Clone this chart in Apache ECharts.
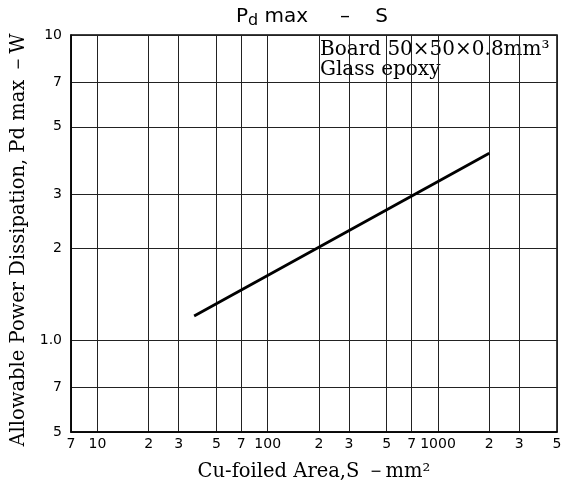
<!DOCTYPE html>
<html><head><meta charset="utf-8">
<script src="https://cdn.jsdelivr.net/npm/echarts@6/dist/echarts.min.js"></script>
<style>html,body{margin:0;padding:0;background:#fff}#c{width:569px;height:492px}</style>
</head><body><div id="c"></div>
<script>
const xTicks = [7,10,20,30,50,70,100,200,300,500,700,1000,2000,3000,5000];
const xTickLabels = ['7','10','2','3','5','7','100','2','3','5','7','1000','2','3','5'];
const yTicks = [0.5,0.7,1,2,3,5,7,10];
const yTickLabels = ['5','7','1.0','2','3','5','7','10'];
const areaS = [37, 2000];
const pdMax = [1.2, 4.1];

const chart = echarts.init(document.getElementById('c'));
const lbl = (ticks, labels) => v => { const i = ticks.findIndex(t => Math.abs(t - v) / t < 1e-6); return i >= 0 ? labels[i] : ''; };
chart.setOption({
  animation: false,
  title: {
    text: 'P{s|d} max     –    S', left: 307, top: -1, textAlign: 'center',
    textStyle: { fontFamily: 'DejaVu Sans', fontSize: 20, fontWeight: 'normal', color: '#000',
      rich: { s: { fontFamily: 'DejaVu Sans', fontSize: 16, verticalAlign: 'bottom', padding: [9,0,0,0], color: '#000' } } }
  },
  grid: { left: 71, right: 12, top: 35, bottom: 60, show: true, borderColor: '#000', borderWidth: 1.5, outerBoundsMode: 'none', containLabel: false },
  xAxis: {
    type: 'log', min: 7, max: 5000, logBase: 10,
    name: 'Cu-foiled Area,S －mm²', nameLocation: 'middle', nameGap: 30,
    nameTextStyle: { fontFamily: 'DejaVu Serif', fontSize: 19.5, color: '#000' },
    axisLine: { lineStyle: { color: '#000', width: 1.5 } },
    axisTick: { show: false, customValues: xTicks },
    axisLabel: { customValues: xTicks, formatter: lbl(xTicks, xTickLabels), color: '#000', fontFamily: 'DejaVu Sans', fontSize: 14, margin: 5, showMinLabel: true, showMaxLabel: true },
    splitLine: { show: true, lineStyle: { color: '#222', width: 1 } },
    minorSplitLine: { show: false }
  },
  yAxis: {
    type: 'log', min: 0.5, max: 10, logBase: 10,
    name: 'Allowable Power Dissipation, Pd max －W', nameLocation: 'middle', nameGap: 37,
    nameTextStyle: { fontFamily: 'DejaVu Serif', fontSize: 19.5, color: '#000', padding: [0, 13, 0, 0] },
    axisLine: { lineStyle: { color: '#000', width: 1.5 } },
    axisTick: { show: false, customValues: yTicks },
    axisLabel: { customValues: yTicks, formatter: lbl(yTicks, yTickLabels), color: '#000', fontFamily: 'DejaVu Sans', fontSize: 14, margin: 9, showMinLabel: true, showMaxLabel: true },
    splitLine: { show: true, lineStyle: { color: '#222', width: 1 } }
  },
  graphic: [
    { type: 'text', left: 320, top: 40, style: { text: 'Board 50×50×0.8mm³', fontFamily: 'DejaVu Serif', fontSize: 20, fill: '#000' } },
    { type: 'text', left: 320, top: 60, style: { text: 'Glass epoxy', fontFamily: 'DejaVu Serif', fontSize: 20, fill: '#000' } }
  ],
  series: [{
    type: 'line', data: areaS.map((x, i) => [x, pdMax[i]]), symbol: 'none',
    lineStyle: { color: '#000', width: 2.8 }
  }]
});
</script></body></html>
